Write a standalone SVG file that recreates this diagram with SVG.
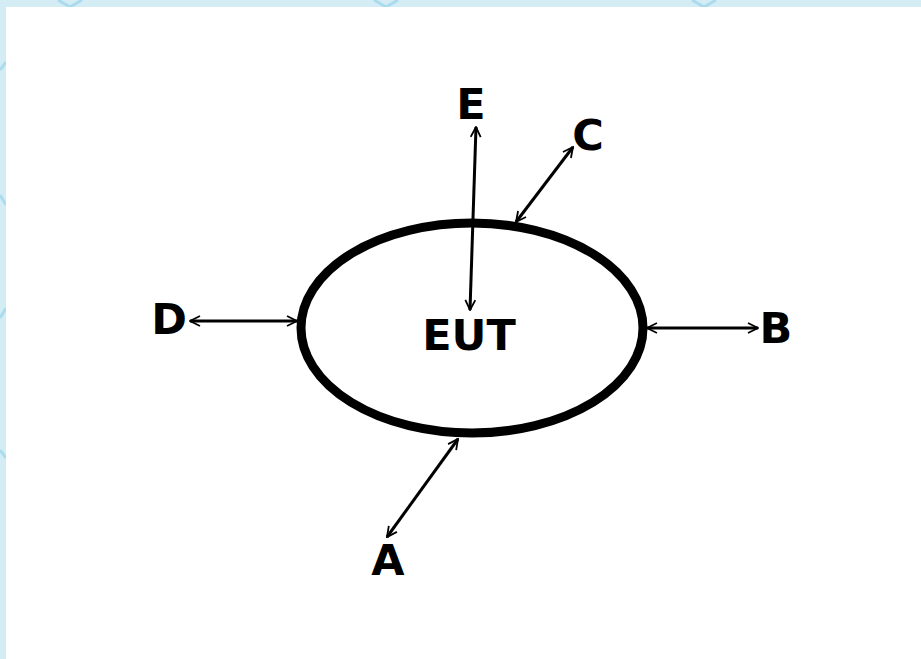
<svg xmlns="http://www.w3.org/2000/svg" width="921" height="659" viewBox="0 0 921 659">
<style>
.lbl{font-family:"DejaVu Sans","Liberation Sans",sans-serif;font-weight:bold;font-size:43px;fill:#000;text-anchor:middle}
.con{stroke:#000;stroke-width:3;fill:none;marker-start:url(#ah);marker-end:url(#ah)}
.deco{stroke:#8fd0ea;stroke-width:3;fill:none;opacity:0.6}
</style>
<defs>
<marker id="ah" viewBox="0 0 12 12" refX="11" refY="6" markerWidth="12" markerHeight="12" markerUnits="userSpaceOnUse" orient="auto-start-reverse">
<path d="M1,1 L11,6 L1,11" stroke="#000" stroke-width="1.8" fill="none"/>
</marker>
</defs>
<rect x="0" y="0" width="921" height="659" fill="#d4ecf4"/>
<g id="deco">
<path class="deco" d="M58,0 L70,7 L82,0"/>
<path class="deco" d="M374,0 L386,7 L398,0"/>
<path class="deco" d="M692,0 L704,7 L716,0"/>
<path class="deco" d="M0,70 L6,62"/>
<path class="deco" d="M0,195 L6,205"/>
<path class="deco" d="M0,318 L6,308"/>
<path class="deco" d="M0,450 L6,458"/>
</g>
<rect x="6" y="7" width="915" height="652" fill="#ffffff"/>
<g id="EUT">
<ellipse cx="472" cy="328" rx="171" ry="105" fill="none" stroke="#000" stroke-width="9"/>
<text class="lbl" x="469" y="350" font-size="47">EUT</text>
</g>
<g id="connectors">
<line class="con" x1="476" y1="127" x2="470" y2="310"/>
<line class="con" x1="573" y1="147" x2="516" y2="222"/>
<line class="con" x1="190" y1="321" x2="297" y2="321"/>
<line class="con" x1="647" y1="328" x2="758" y2="328"/>
<line class="con" x1="458" y1="439" x2="387" y2="537"/>
</g>
<g id="E"><text class="lbl" x="471" y="119">E</text></g>
<g id="C"><text class="lbl" x="588" y="150">C</text></g>
<g id="D"><text class="lbl" x="169" y="334">D</text></g>
<g id="B"><text class="lbl" x="776" y="343">B</text></g>
<g id="A"><text class="lbl" x="388" y="575">A</text></g>
</svg>
